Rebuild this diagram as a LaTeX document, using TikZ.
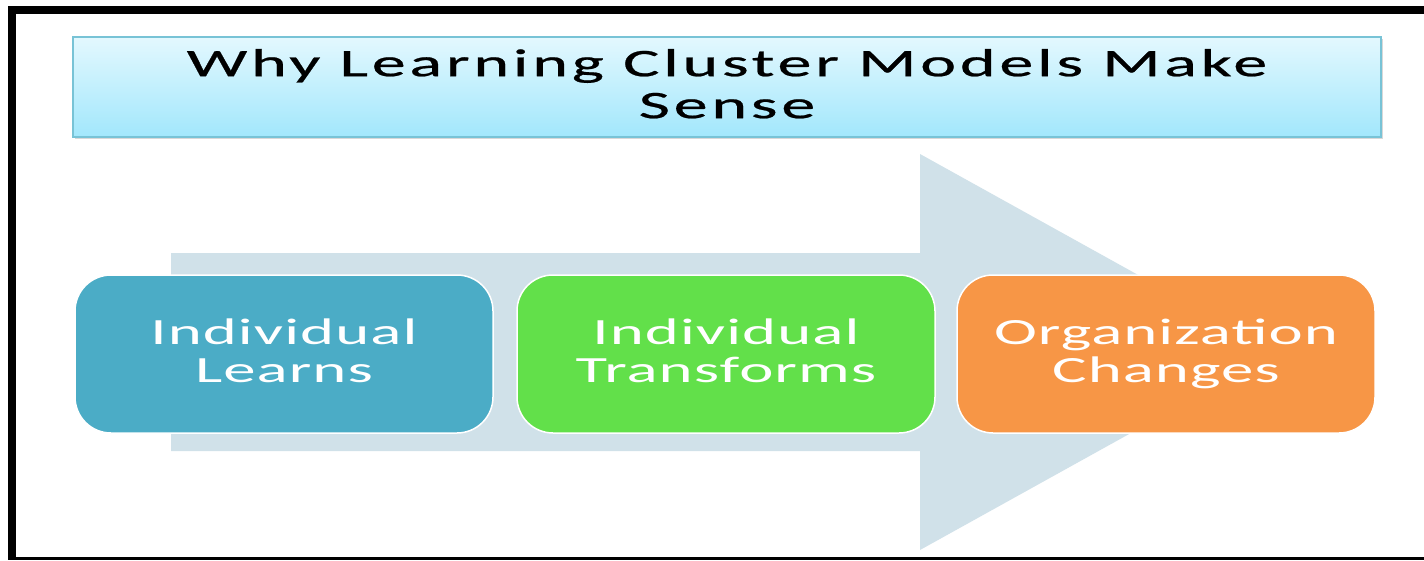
\documentclass[tikz,border=0pt]{standalone}
\usepackage{fontspec}
\newfontfamily\boxfont{Carlito}[FakeStretch=1.75, LetterSpace=3]
\newfontfamily\titlefont{Carlito}[FakeStretch=1.75, LetterSpace=9.5, FakeBold=0.6]
\usetikzlibrary{shadows}
\definecolor{framek}{HTML}{000000}
\definecolor{titletop}{HTML}{E3F8FE}
\definecolor{titlebot}{HTML}{A2E7FC}
\definecolor{titleedge}{HTML}{78C3D6}
\definecolor{arrowfill}{HTML}{D0E1E9}
\definecolor{bluebox}{HTML}{4BACC6}
\definecolor{greenbox}{HTML}{62E04A}
\definecolor{orangebox}{HTML}{F79646}
\tikzset{
  stagebox/.style={draw=white, line width=1.5pt, rounded corners=36pt,
    minimum width=418pt, minimum height=158pt, inner sep=0pt,
    align=center, text=white,
    font=\boxfont\fontsize{37}{38}\selectfont},
  titlebox/.style={draw=titleedge, line width=2pt, top color=titletop, bottom color=titlebot,
    minimum width=1308pt, minimum height=100pt, inner sep=0pt, align=center,
    font=\titlefont\fontsize{39}{42}\selectfont,
    drop shadow={shadow xshift=2pt, shadow yshift=-2pt, fill=black!30, opacity=0.5}},
}
\begin{document}
\begin{tikzpicture}[x=1pt,y=-1pt]
\useasboundingbox (0,0) rectangle (1424,560);
\fill[white] (0,0) rectangle (1424,560);
% frame
\fill[framek] (8,6) rectangle (1424,14);
\fill[framek] (8,6) rectangle (16,560);
\fill[framek] (8,557) rectangle (1424,560);
% title
\node[titlebox] (title) at (727,87) {\vphantom{Il}Why Learning Cluster Models Make\vphantom{g}\\\vphantom{Il}Sense\vphantom{g}};
% big arrow
\fill[arrowfill] (171,253) -- (920,253) -- (920,154) -- (1277,352) -- (920,550) -- (920,451) -- (171,451) -- cycle;
% boxes
\node[stagebox, fill=bluebox] (learn) at (284,354) {\vphantom{Il}Individual\vphantom{g}\\\vphantom{Il}Learns\vphantom{g}};
\node[stagebox, fill=greenbox] (transform) at (726,354) {\vphantom{Il}Individual\vphantom{g}\\\vphantom{Il}Transforms\vphantom{g}};
\node[stagebox, fill=orangebox] (change) at (1166,354) {\vphantom{Il}Organization\vphantom{g}\\\vphantom{Il}Changes\vphantom{g}};
\end{tikzpicture}
\end{document}
